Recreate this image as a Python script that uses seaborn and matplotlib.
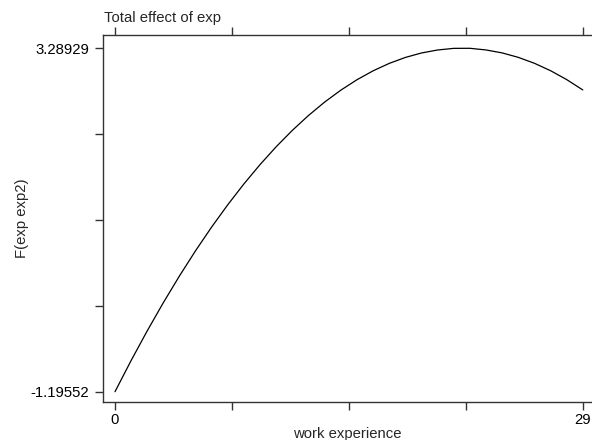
import numpy as np
import pandas as pd
import matplotlib
matplotlib.use("Agg")
import matplotlib.pyplot as plt
import seaborn as sns

# Fitted total effect of experience, evaluated at each year of experience
exp_years = list(range(0, 30))
effect = [-1.19552, -0.7882, -0.4002, -0.0317, 0.3174, 0.6472, 0.9575, 1.2485,
          1.5201, 1.7723, 2.0052, 2.2186, 2.4127, 2.5873, 2.7426, 2.8785,
          2.9950, 3.0921, 3.1699, 3.2282, 3.2672, 3.2885, 3.28929, 3.2678,
          3.2292, 3.1712, 3.0939, 2.9972, 2.8810, 2.7455]

x_ticks = [0, 7.25, 14.5, 21.75, 29]
x_tick_labels = ["0", "", "", "", "29"]
y_ticks = [-1.19552, -0.07432, 1.04688, 2.16809, 3.28929]
y_tick_labels = ["-1.19552", "", "", "", "3.28929"]

sns.set_theme(style="ticks")
plt.rcParams["font.family"] = ["Liberation Sans", "DejaVu Sans"]

df = pd.DataFrame({"exp": exp_years, "F": effect})

fig = plt.figure(figsize=(5.92, 4.40), dpi=100)
ax = fig.add_axes([103.3 / 592, 1 - 402.3 / 440, (591 - 103.3) / 592, (402.3 - 35) / 440])

sns.lineplot(data=df, x="exp", y="F", ax=ax, color="black", linewidth=0.9)

ax.set_xlim(-0.725, 29.51)
ax.set_ylim(-1.334, 3.463)

ax.set_xticks(x_ticks)
ax.set_xticklabels(x_tick_labels)
ax.set_yticks(y_ticks)
ax.set_yticklabels(y_tick_labels)

spine_color = "#333333"
for side in ["left", "bottom", "top"]:
    ax.spines[side].set_visible(True)
    ax.spines[side].set_color(spine_color)
    ax.spines[side].set_linewidth(1.0)
ax.spines["right"].set_visible(False)

fs = 10.7
ax.tick_params(axis="both", direction="out", length=5.5, width=1.0,
               color=spine_color, labelsize=fs, labelcolor="black")
ax.tick_params(axis="y", pad=4.5)
ax.tick_params(axis="x", top=True, labeltop=False, pad=2)

ax.set_xlabel("work experience", fontsize=fs, labelpad=0)
ax.set_ylabel("F(exp exp2)", fontsize=fs)
ax.yaxis.set_label_coords(-0.1525, 0.5)

fig.text(104 / 592, 1 - 22 / 440, "Total effect of exp", fontsize=fs,
         ha="left", va="baseline")

fig.savefig("out.png", dpi=100)
